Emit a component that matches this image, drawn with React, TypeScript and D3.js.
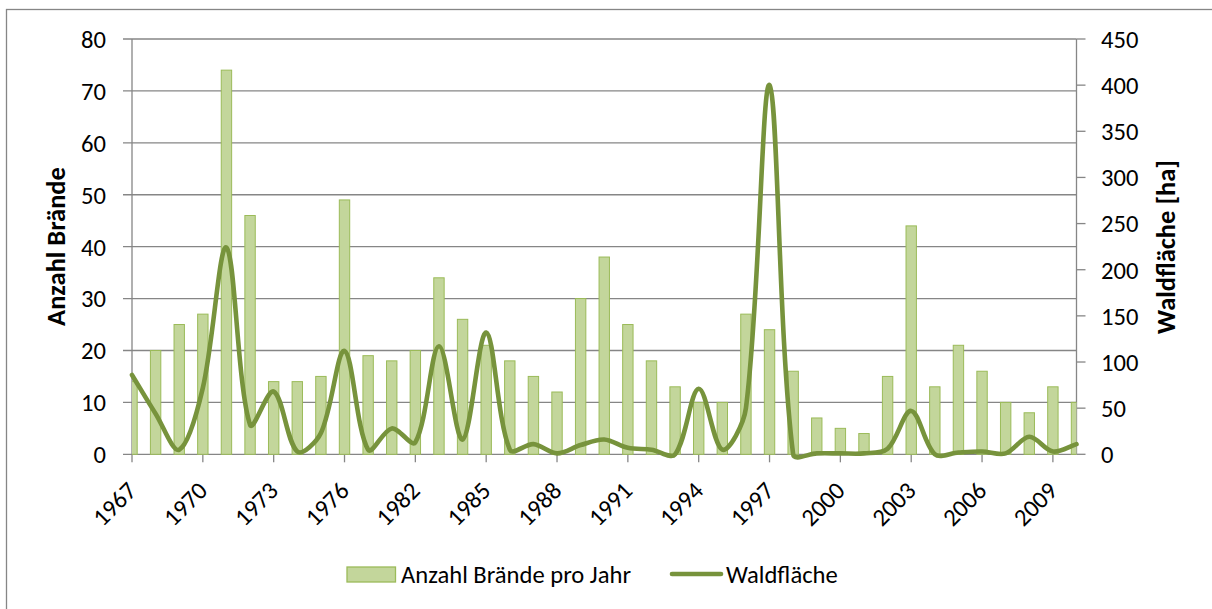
import React from "react";
import * as d3 from "d3";

const years = [
  "1967","1968","1969","1970","1971","1972","1973","1974","1975","1976",
  "1978","1980","1982","1983","1984","1985","1986","1987","1988","1989",
  "1990","1991","1992","1993","1994","1995","1996","1997","1998","1999",
  "2000","2001","2002","2003","2004","2005","2006","2007","2008","2009","2010",
];
const fires = [
  14, 20, 25, 27, 74, 46, 14, 14, 15, 49,
  19, 18, 20, 34, 26, 21, 18, 15, 12, 30,
  38, 25, 18, 13, 10, 10, 27, 24, 16, 7,
  5, 4, 15, 44, 13, 21, 16, 10, 8, 13, 10,
];
const area = [
  86, 44, 5, 72, 224, 32, 68, 3, 23, 112,
  5, 28, 13, 117, 16, 132, 5, 11, 1, 10,
  16, 7, 5, 0, 71, 5, 50, 400, 0, 1,
  1, 1, 6, 47, 0, 2, 3, 1, 19, 3, 11,
];
const leftTicks = [0, 10, 20, 30, 40, 50, 60, 70, 80];
const rightTicks = [0, 50, 100, 150, 200, 250, 300, 350, 400, 450];
const seriesNames = ["Anzahl Brände pro Jahr", "Waldfläche"];
const axisTitles = ["Anzahl Brände", "Waldfläche [ha]"];

const W = 1212;
const H = 609;
const FONT = "Carlito, Calibri, Lato, sans-serif";
const GRID = "#868686";
const BAR_FILL = "#c3d69b";
const BAR_STROKE = "#9bbb59";
const LINE = "#77933c";
const FS = 24.6;

// Excel-like smoothing: chord-length weighted Catmull-Rom bezier
function smoothPath(pts: [number, number][]) {
  const p = d3.path();
  const n = pts.length;
  const dist = (a: [number, number], b: [number, number]) => Math.hypot(b[0] - a[0], b[1] - a[1]);
  p.moveTo(pts[0][0], pts[0][1]);
  for (let i = 0; i < n - 1; i++) {
    const p0 = pts[Math.max(0, i - 1)];
    const p1 = pts[i];
    const p2 = pts[i + 1];
    const p3 = pts[Math.min(n - 1, i + 2)];
    const d01 = dist(p0, p1);
    const d12 = dist(p1, p2);
    const d23 = dist(p2, p3);
    const f1 = d01 + d12 > 0 ? d12 / (d01 + d12) / 3 : 0;
    const f2 = d12 + d23 > 0 ? d12 / (d12 + d23) / 3 : 0;
    const c1x = p1[0] + (p2[0] - p0[0]) * f1;
    const c1y = p1[1] + (p2[1] - p0[1]) * f1;
    const c2x = p2[0] - (p3[0] - p1[0]) * f2;
    const c2y = p2[1] - (p3[1] - p1[1]) * f2;
    p.bezierCurveTo(c1x, c1y, c2x, c2y, p2[0], p2[1]);
  }
  return p.toString();
}

export default function App() {
  const left = 132;
  const right = 1076.5;
  const top = 39;
  const bottom = 454.3;

  const x = d3.scalePoint<string>().domain(years).range([left, right]);
  const yL = d3.scaleLinear().domain([0, 80]).range([bottom, top]);
  const yR = d3.scaleLinear().domain([0, 450]).range([bottom, top]);
  const step = x.step();
  const barW = step * 0.44;

  const linePts: [number, number][] = area.map((v, i) => [x(years[i]) as number, yR(v)]);

  return (
    <svg
      width={W}
      height={H}
      style={{ position: "absolute", left: 0, top: 0 }}
      fontFamily={FONT}
    >
      <defs>
        <clipPath id="plot">
          <rect x={left} y={0} width={right - left} height={bottom + 1} />
        </clipPath>
      </defs>
      <rect x={0} y={0} width={W} height={H} fill="#fff" />
      <rect x={6.5} y={9.5} width={W + 20} height={H + 20} fill="none" stroke={GRID} strokeWidth={1.3} />

      {/* gridlines */}
      {leftTicks.map((t) => (
        <line key={"g" + t} x1={left - 9} x2={right} y1={yL(t)} y2={yL(t)} stroke={GRID} strokeWidth={1.3} />
      ))}
      {/* left axis */}
      <line x1={left} x2={left} y1={top} y2={bottom} stroke={GRID} strokeWidth={1.3} />
      {/* right axis */}
      <line x1={right} x2={right} y1={top} y2={bottom} stroke={GRID} strokeWidth={1.3} />
      {rightTicks.map((t) => (
        <line key={"rt" + t} x1={right} x2={right + 9} y1={yR(t)} y2={yR(t)} stroke={GRID} strokeWidth={1.3} />
      ))}
      {/* x ticks */}
      {years.map((yv, i) =>
        i % 3 === 0 ? (
          <line key={"xt" + yv} x1={x(yv)} x2={x(yv)} y1={bottom} y2={bottom + 8} stroke={GRID} strokeWidth={1.3} />
        ) : null
      )}

      {/* bars */}
      <g clipPath="url(#plot)">
        {fires.map((v, i) => (
          <rect
            key={"b" + i}
            x={(x(years[i]) as number) - barW / 2}
            y={yL(v)}
            width={barW}
            height={bottom - yL(v)}
            fill={BAR_FILL}
            stroke={BAR_STROKE}
            strokeWidth={1}
          />
        ))}
      </g>

      {/* line */}
      <path d={smoothPath(linePts)} fill="none" stroke={LINE} strokeWidth={4.6} strokeLinecap="round" strokeLinejoin="round" />

      {/* left tick labels */}
      {leftTicks.map((t) => (
        <text key={"lt" + t} x={106} y={yL(t)} dy="0.36em" textAnchor="end" fontSize={FS} fill="#000">
          {t}
        </text>
      ))}
      {/* right tick labels */}
      {rightTicks.map((t) => (
        <text key={"rl" + t} x={1101} y={yR(t)} dy="0.36em" textAnchor="start" fontSize={FS} fill="#000">
          {t}
        </text>
      ))}
      {/* x labels */}
      {years.map((yv, i) =>
        i % 3 === 0 ? (
          <text
            key={"xl" + yv}
            transform={`translate(${(x(yv) as number) + 6},${bottom + 38}) rotate(-45)`}
            textAnchor="end"
            fontSize={FS}
            fill="#000"
          >
            {yv}
          </text>
        ) : null
      )}

      {/* axis titles */}
      <text transform={`translate(65,246.5) rotate(-90)`} textAnchor="middle" fontSize={26.5} fontWeight="bold" fill="#000">
        {axisTitles[0]}
      </text>
      <text transform={`translate(1175,247) rotate(-90)`} textAnchor="middle" fontSize={26.5} fontWeight="bold" fill="#000">
        {axisTitles[1]}
      </text>

      {/* legend */}
      <rect x={347} y={567} width={48.5} height={15} fill={BAR_FILL} stroke={BAR_STROKE} strokeWidth={1.3} />
      <text x={401} y={574.5} dy="0.36em" fontSize={FS} fill="#000">
        {seriesNames[0]}
      </text>
      <line x1={672} x2={721} y1={574} y2={574} stroke={LINE} strokeWidth={4.6} strokeLinecap="round" />
      <text x={726} y={574.5} dy="0.36em" fontSize={FS} fill="#000">
        {seriesNames[1]}
      </text>
    </svg>
  );
}
